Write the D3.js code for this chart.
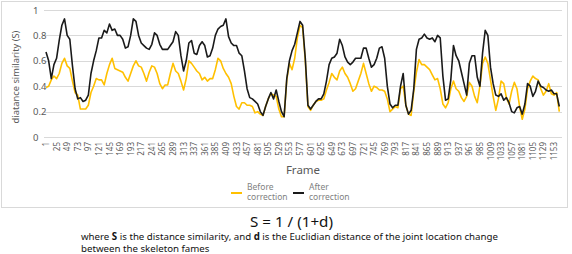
<!DOCTYPE html>
<html><head><meta charset="utf-8">
<script src="https://cdn.jsdelivr.net/npm/d3@7/dist/d3.min.js"></script>
<style>body{margin:0;background:#fff}svg{display:block}text{font-family:"Noto Sans",sans-serif}</style>
</head><body><svg id="c" width="572" height="254"></svg>
<script>
// ---- data ----
const frameStart = 1, frameStep = 6;           // sampled frames 1,7,13,...,1165
const xTickLabels = d3.range(1, 1154, 24);     // 1,25,...,1153
const yTicks = [0, 0.2, 0.4, 0.6, 0.8, 1];
const seriesNames = [["Before", "correction"], ["After", "correction"]];
const before = [
0.39,0.40,0.45,0.48,0.46,0.50,0.58,0.62,0.56,0.54,
0.44,0.35,0.33,0.22,0.22,0.22,0.25,0.35,0.40,0.46,
0.45,0.45,0.41,0.50,0.57,0.62,0.54,0.53,0.52,0.51,
0.47,0.44,0.50,0.56,0.60,0.56,0.55,0.50,0.44,0.51,
0.56,0.55,0.50,0.42,0.38,0.41,0.41,0.50,0.58,0.52,
0.50,0.44,0.37,0.46,0.60,0.58,0.55,0.52,0.50,
0.45,0.47,0.44,0.46,0.46,0.53,0.62,0.60,0.54,0.50,
0.47,0.42,0.32,0.24,0.22,0.27,0.27,0.25,0.25,0.24,
0.19,0.20,0.18,0.17,0.24,0.30,0.34,0.33,0.32,0.22,
0.16,0.16,0.45,0.58,0.53,0.62,0.78,0.88,0.86,0.60,
0.24,0.21,0.25,0.28,0.29,0.29,0.30,0.37,0.43,0.50,
0.47,0.45,0.52,0.55,0.50,0.47,0.42,0.36,0.38,0.44,
0.50,0.58,0.50,0.42,0.36,0.40,0.39,0.37,0.37,0.36,
0.30,
0.20,0.22,0.24,0.23,0.38,0.40,0.25,0.18,0.17,0.36,
0.51,0.61,0.57,0.57,0.55,0.53,0.49,0.45,0.46,0.38,
0.26,0.23,0.27,0.38,0.44,0.38,0.36,0.31,0.28,0.32,
0.43,0.40,0.32,0.27,0.40,0.58,0.63,0.58,0.45,0.32,
0.21,0.30,0.44,0.42,0.31,0.26,0.36,0.43,0.38,0.24,
0.14,0.22,0.38,0.44,0.48,0.46,0.45,0.38,0.33,0.36,
0.42,0.34,0.33,0.35,0.20];
const after = [
0.67,0.60,0.46,0.57,0.62,0.76,0.88,0.93,0.80,0.77,
0.56,0.38,0.30,0.31,0.28,0.29,0.33,0.50,0.60,0.68,
0.78,0.78,0.84,0.82,0.89,0.84,0.85,0.80,0.80,0.77,
0.70,0.71,0.80,0.93,0.91,0.80,0.74,0.72,0.70,0.69,
0.73,0.82,0.80,0.73,0.69,0.69,0.69,0.72,0.75,0.83,
0.80,0.64,0.52,0.60,0.74,0.76,0.66,0.65,0.72,
0.75,0.72,0.63,0.64,0.70,0.80,0.85,0.87,0.88,0.93,
0.79,0.74,0.72,0.72,0.66,0.64,0.52,0.38,0.31,0.30,
0.28,0.26,0.20,0.17,0.24,0.30,0.35,0.30,0.37,0.28,
0.20,0.16,0.46,0.60,0.68,0.73,0.82,0.91,0.88,0.62,
0.25,0.22,0.25,0.28,0.30,0.30,0.34,0.44,0.57,0.62,
0.63,0.66,0.77,0.72,0.63,0.59,0.57,0.59,0.62,0.62,
0.62,0.70,0.70,0.62,0.55,0.57,0.62,0.70,0.71,0.62,
0.40,
0.26,0.23,0.25,0.25,0.40,0.50,0.25,0.18,0.21,0.38,
0.69,0.77,0.78,0.81,0.78,0.77,0.78,0.75,0.80,0.78,
0.48,0.29,0.30,0.45,0.72,0.64,0.60,0.51,0.42,0.33,
0.58,0.64,0.64,0.47,0.40,0.66,0.84,0.80,0.55,0.42,
0.33,0.32,0.34,0.29,0.31,0.27,0.20,0.19,0.23,0.24,
0.18,0.26,0.42,0.40,0.32,0.36,0.44,0.40,0.39,0.37,
0.36,0.37,0.34,0.34,0.24];
const frames = before.map((_, i) => frameStart + i * frameStep);

// ---- chart ----
const svg = d3.select("#c");
const x = d3.scaleLinear().domain([1, 1153]).range([46, 554]);
const y = d3.scaleLinear().domain([0, 1]).range([137, 10]);
const plotL = 44, plotR = 562;

svg.append("rect").attr("x", 1.5).attr("y", 1.5).attr("width", 566).attr("height", 206)
  .attr("fill", "#fff").attr("stroke", "#d9d9d9");

// gridlines
svg.append("g").selectAll("line").data(yTicks).join("line")
  .attr("x1", plotL).attr("x2", plotR)
  .attr("y1", d => Math.round(y(d)) + 0.5).attr("y2", d => Math.round(y(d)) + 0.5)
  .attr("stroke", "#d9d9d9").attr("stroke-width", 1);

// y tick labels
svg.append("g").selectAll("text").data(yTicks).join("text")
  .attr("x", 33).attr("y", d => y(d) + 3.5)
  .attr("font-size", 9.5).attr("fill", "#595959")
  .text(d => d3.format("~g")(d));

// x axis
const xAxis = d3.axisBottom(x).tickValues(xTickLabels).tickSize(0).tickPadding(0)
  .tickFormat(d3.format("d"));
const gx = svg.append("g").attr("transform", "translate(0,142)").call(xAxis);
gx.select(".domain").remove();
gx.selectAll("text")
  .attr("font-family", '"Noto Sans",sans-serif').attr("font-size", 8).attr("fill", "#595959")
  .attr("transform", "rotate(-90)").attr("text-anchor", "end")
  .attr("x", 0).attr("y", 0).attr("dy", "0.32em").attr("dx", 0);

// lines
const line = d3.line().x((d, i) => x(frames[i])).y(d => y(d));
svg.append("path").datum(before).attr("d", line).attr("fill", "none")
  .attr("stroke", "#FFC000").attr("stroke-width", 1.6).attr("stroke-linejoin", "round");
svg.append("path").datum(after).attr("d", line).attr("fill", "none")
  .attr("stroke", "#1a1a1a").attr("stroke-width", 1.6).attr("stroke-linejoin", "round");

function fit(sel, w) {
  const l = sel.node().getComputedTextLength();
  sel.attr("font-size", parseFloat(sel.attr("font-size")) * w / l);
}

// axis titles
svg.append("text").attr("x", 303).attr("y", 174).attr("text-anchor", "middle")
  .attr("font-size", 11.5).attr("fill", "#595959").text("Frame");
const yt = svg.append("text").attr("transform", "translate(19,77) rotate(-90)")
  .attr("text-anchor", "middle").attr("font-size", 11).attr("fill", "#595959")
  .text("diatance similarity (S)");
fit(yt, 93);

// legend
const colors = ["#FFC000", "#1a1a1a"];
const legX = [231, 293];
seriesNames.forEach((parts, i) => {
  svg.append("line").attr("x1", legX[i]).attr("x2", legX[i] + 11)
    .attr("y1", 193).attr("y2", 193).attr("stroke", colors[i]).attr("stroke-width", 2);
  parts.forEach((p, j) => {
    svg.append("text").attr("x", legX[i] + 16).attr("y", 190 + j * 10)
      .attr("font-size", 8.5).attr("fill", "#7f7f7f").text(p);
  });
});

// formula & caption
const f = svg.append("text").attr("x", 291.5).attr("y", 227).attr("text-anchor", "middle")
  .attr("font-size", 15).attr("fill", "#111").text("S = 1 / (1+d)");
fit(f, 83);
const c1 = svg.append("text").attr("x", 81).attr("y", 240).attr("font-size", 10).attr("fill", "#111");
c1.append("tspan").text("where ");
c1.append("tspan").attr("font-weight", "bold").text("S");
c1.append("tspan").text(" is the distance similarity, and ");
c1.append("tspan").attr("font-weight", "bold").text("d");
c1.append("tspan").text(" is the Euclidian distance of the joint location change");
fit(c1, 417);
svg.append("text").attr("x", 81).attr("y", 251.5).attr("font-size", c1.attr("font-size"))
  .attr("fill", "#111").text("between the skeleton fames");
</script></body></html>
